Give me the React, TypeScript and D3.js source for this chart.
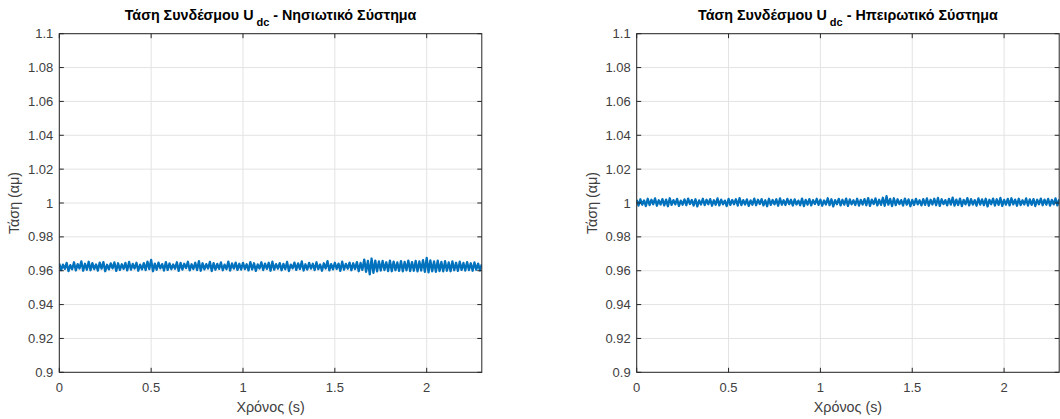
import React from "react";
import * as d3 from "d3";

const T_END = 2.3;
const xTicks = [0, 0.5, 1, 1.5, 2];
const yTicks = [0.9, 0.92, 0.94, 0.96, 0.98, 1, 1.02, 1.04, 1.06, 1.08, 1.1];
const yTickLabels = ["0.9", "0.92", "0.94", "0.96", "0.98", "1", "1.02", "1.04", "1.06", "1.08", "1.1"];
const xTickLabels = ["0", "0.5", "1", "1.5", "2"];

const islandUdc = [
  0.9642,0.9604,0.9636,0.9611,0.9646,0.9598,0.9633,0.9609,0.9650,0.9602,0.9639,0.9613,0.9655,0.9600,0.9641,0.9606,0.9653,0.9603,0.9645,0.9610,
  0.9637,0.9601,0.9648,0.9612,0.9651,0.9597,0.9635,0.9608,0.9643,0.9614,0.9649,0.9599,0.9644,0.9605,0.9638,0.9611,0.9646,0.9602,0.9652,0.9607,
  0.9640,0.9613,0.9647,0.9600,0.9636,0.9608,0.9645,0.9604,0.9654,0.9610,0.9664,0.9597,0.9642,0.9606,0.9648,0.9614,0.9639,0.9601,0.9651,0.9605,
  0.9643,0.9609,0.9637,0.9612,0.9650,0.9599,0.9646,0.9607,0.9641,0.9615,0.9653,0.9602,0.9638,0.9610,0.9647,0.9604,0.9656,0.9600,0.9644,0.9608,
  0.9639,0.9613,0.9652,0.9598,0.9645,0.9606,0.9640,0.9611,0.9649,0.9603,0.9636,0.9609,0.9654,0.9601,0.9643,0.9612,0.9648,0.9605,0.9641,0.9607,
  0.9646,0.9610,0.9638,0.9602,0.9651,0.9608,0.9644,0.9599,0.9637,0.9613,0.9650,0.9604,0.9642,0.9611,0.9647,0.9600,0.9653,0.9606,0.9639,0.9612,
  0.9645,0.9603,0.9640,0.9609,0.9652,0.9598,0.9636,0.9614,0.9648,0.9605,0.9643,0.9610,0.9655,0.9601,0.9638,0.9607,0.9646,0.9612,0.9641,0.9604,
  0.9650,0.9609,0.9637,0.9600,0.9644,0.9613,0.9657,0.9602,0.9639,0.9608,0.9647,0.9611,0.9642,0.9599,0.9653,0.9606,0.9640,0.9612,0.9648,0.9603,
  0.9644,0.9610,0.9651,0.9597,0.9646,0.9605,0.9666,0.9594,0.9658,0.9578,0.9672,0.9588,0.9660,0.9596,0.9655,0.9601,0.9658,0.9604,0.9650,0.9598,
  0.9659,0.9597,0.9654,0.9603,0.9649,0.9599,0.9657,0.9596,0.9652,0.9602,0.9660,0.9598,0.9651,0.9600,0.9658,0.9596,0.9655,0.9601,0.9662,0.9593,
  0.9676,0.9591,0.9661,0.9597,0.9655,0.9594,0.9659,0.9598,0.9652,0.9596,0.9656,0.9600,0.9649,0.9597,0.9655,0.9603,0.9647,0.9599,0.9653,0.9605,
  0.9646,0.9601,0.9651,0.9604,0.9644,0.9600,0.9649,0.9606,0.9642,0.9602,0.9638,
];

const mainlandUdc = [
  1.0018,0.9985,1.0022,0.9990,1.0015,0.9982,1.0025,0.9988,1.0019,0.9993,1.0027,0.9984,1.0016,0.9991,1.0023,0.9986,1.0020,0.9981,1.0028,0.9989,
  1.0017,0.9992,1.0024,0.9983,1.0014,0.9990,1.0021,0.9987,1.0026,0.9994,1.0018,0.9985,1.0022,0.9980,1.0015,0.9991,1.0025,0.9988,1.0019,0.9993,
  1.0023,0.9984,1.0016,0.9990,1.0027,0.9986,1.0020,0.9992,1.0014,0.9982,1.0024,0.9989,1.0018,0.9993,1.0022,0.9985,1.0029,0.9988,1.0017,0.9991,
  1.0021,0.9983,1.0015,0.9990,1.0026,0.9987,1.0019,0.9994,1.0023,0.9986,1.0016,0.9981,1.0025,0.9989,1.0018,0.9992,1.0022,0.9984,1.0027,0.9990,
  1.0016,0.9988,1.0024,0.9993,1.0019,0.9985,1.0021,0.9991,1.0014,0.9987,1.0026,0.9982,1.0018,0.9990,1.0023,0.9986,1.0017,0.9994,1.0025,0.9989,
  1.0020,0.9984,1.0015,0.9991,1.0028,0.9987,1.0022,0.9980,1.0017,0.9993,1.0024,0.9986,1.0019,0.9990,1.0026,0.9983,1.0021,0.9992,1.0016,0.9988,
  1.0025,0.9985,1.0018,0.9991,1.0023,0.9987,1.0029,0.9983,1.0020,0.9994,1.0027,0.9986,1.0019,0.9989,1.0031,0.9984,1.0040,0.9990,1.0024,0.9982,
  1.0028,0.9987,1.0022,0.9993,1.0017,0.9985,1.0026,0.9990,1.0021,0.9981,1.0018,0.9988,1.0024,0.9992,1.0016,0.9986,1.0023,0.9989,1.0027,0.9984,
  1.0019,0.9991,1.0025,0.9987,1.0030,0.9983,1.0022,0.9993,1.0017,0.9986,1.0024,0.9990,1.0032,0.9985,1.0020,0.9988,1.0026,0.9982,1.0018,0.9992,
  1.0029,0.9986,1.0023,0.9990,1.0017,0.9984,1.0027,0.9991,1.0021,0.9987,1.0025,0.9980,1.0019,0.9993,1.0026,0.9985,1.0022,0.9989,1.0030,0.9983,
  1.0018,0.9990,1.0024,0.9986,1.0028,0.9992,1.0020,0.9984,1.0025,0.9988,1.0016,0.9991,1.0027,0.9985,1.0021,0.9989,1.0023,0.9982,1.0019,0.9993,
  1.0026,0.9987,1.0020,0.9990,1.0024,0.9985,1.0018,0.9992,1.0027,0.9986,1.0021,
];

const panels = [
  { id: "a", titleMain: "Τάση Συνδέσμου U", titleSub: "dc", titleRest: " - Νησιωτικό Σύστημα", data: islandUdc, left: 59.3 },
  { id: "b", titleMain: "Τάση Συνδέσμου U", titleSub: "dc", titleRest: " - Ηπειρωτικό Σύστημα", data: mainlandUdc, left: 636.7 },
];

const W = 1060, H = 419;
const PW = 422.5;
const TOP = 33.7, BOT = 372.3;
const FONT = "'Liberation Sans', Arial, Helvetica, sans-serif";
const AX = "#262626";
const TXT = "#404040";
const GRID = "#e3e3e3";
const TL = 4.5;

function Panel({ p }: { p: typeof panels[number] }) {
  const x = d3.scaleLinear().domain([0, T_END]).range([p.left, p.left + PW]);
  const y = d3.scaleLinear().domain([0.9, 1.1]).range([BOT, TOP]);
  const n = p.data.length;
  const pts: [number, number][] = p.data.map((v, i) => [(i / (n - 1)) * T_END, v]);
  const line = d3.line<[number, number]>().x(d => x(d[0])).y(d => y(d[1]));
  const x0 = x(0), x1 = x(T_END);
  const cx = (x0 + x1) / 2;
  const cy = (TOP + BOT) / 2;
  return (
    <g>
      <defs>
        <clipPath id={"clip" + p.id}>
          <rect x={x0} y={TOP} width={x1 - x0} height={BOT - TOP} />
        </clipPath>
      </defs>
      {xTicks.map(t => (
        <line key={"gx" + t} x1={x(t)} x2={x(t)} y1={TOP} y2={BOT} stroke={GRID} strokeWidth={1} />
      ))}
      {yTicks.map(t => (
        <line key={"gy" + t} x1={x0} x2={x1} y1={y(t)} y2={y(t)} stroke={GRID} strokeWidth={1} />
      ))}
      <path d={line(pts) || ""} fill="none" stroke="#0072BD" strokeWidth={2.3} clipPath={`url(#clip${p.id})`} strokeLinejoin="round" />
      <rect x={x0} y={TOP} width={x1 - x0} height={BOT - TOP} fill="none" stroke={AX} strokeWidth={1} />
      {xTicks.map(t => (
        <g key={"tx" + t}>
          <line x1={x(t)} x2={x(t)} y1={BOT} y2={BOT - TL} stroke={AX} />
          <line x1={x(t)} x2={x(t)} y1={TOP} y2={TOP + TL} stroke={AX} />
        </g>
      ))}
      {yTicks.map(t => (
        <g key={"ty" + t}>
          <line x1={x0} x2={x0 + TL} y1={y(t)} y2={y(t)} stroke={AX} />
          <line x1={x1} x2={x1 - TL} y1={y(t)} y2={y(t)} stroke={AX} />
        </g>
      ))}
      {yTicks.map((t, i) => (
        <text key={"ly" + t} x={x0 - 6} y={y(t)} dy="0.35em" textAnchor="end" fontSize={13} fill={TXT} fontFamily={FONT}>
          {yTickLabels[i]}
        </text>
      ))}
      {xTicks.map((t, i) => (
        <text key={"lx" + t} x={x(t)} y={392} textAnchor="middle" fontSize={13} fill={TXT} fontFamily={FONT}>
          {xTickLabels[i]}
        </text>
      ))}
      <text x={cx} y={412} textAnchor="middle" fontSize={14.3} fill={TXT} fontFamily={FONT}>Χρόνος (s)</text>
      <text transform={`translate(${x0 - 40},${cy}) rotate(-90)`} textAnchor="middle" fontSize={14.3} fill={TXT} fontFamily={FONT}>Τάση (αμ)</text>
      <text x={cx} y={20} textAnchor="middle" fontSize={14.3} fontWeight="bold" fill="#000" fontFamily={FONT}>
        {p.titleMain}
        <tspan dx={3} dy={6} fontSize={11}>{p.titleSub}</tspan>
        <tspan dy={-6}>{p.titleRest}</tspan>
      </text>
    </g>
  );
}

export default function App() {
  return (
    <svg width={W} height={H} style={{ position: "fixed", left: 0, top: 0, background: "#fff" }}>
      <rect width={W} height={H} fill="#fff" />
      {panels.map(p => <Panel key={p.id} p={p} />)}
    </svg>
  );
}
